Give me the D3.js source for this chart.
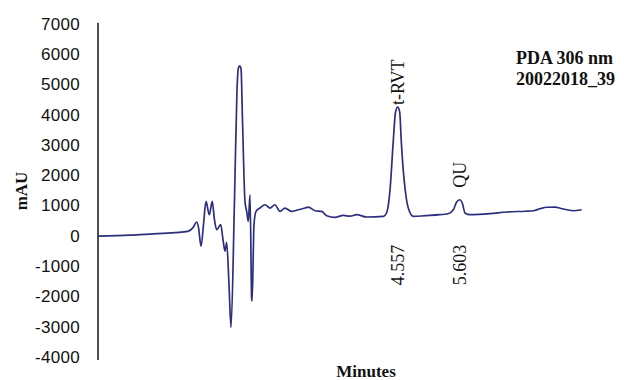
<!DOCTYPE html>
<html>
<head>
<meta charset="utf-8">
<script src="https://cdn.jsdelivr.net/npm/d3@7"></script>
<style>
  body { margin: 0; background: #fff; }
</style>
</head>
<body>
<div id="container"></div>
<script>
// chromatogram: time (min) and signal (mAU)
let times = [-0.50, 0.04, 0.377, 0.799, 1.018, 1.103, 1.165, 1.196, 1.238, 1.280,
  1.322, 1.378, 1.428, 1.465, 1.503, 1.570, 1.609, 1.643, 1.671, 1.710,
  1.744, 1.803, 1.845, 1.867, 1.891, 1.913, 1.938, 1.980, 2.009, 2.036,
  2.065, 2.093, 2.100, 2.132, 2.166, 2.233, 2.318, 2.402, 2.486, 2.571,
  2.655, 2.768, 2.851, 2.993, 3.048, 3.161, 3.274, 3.358, 3.498, 3.639,
  3.752, 3.865, 4.033, 4.314, 4.376, 4.427, 4.483, 4.520, 4.557, 4.591,
  4.616, 4.650, 4.683, 4.734, 4.823, 5.021, 5.270, 5.405, 5.495, 5.549,
  5.603, 5.650, 5.692, 5.776, 6.114, 6.396, 6.704, 6.845, 6.958, 7.076,
  7.211, 7.329, 7.408, 7.520, 7.661];
let mau = [-10, 20, 56, 105, 148, 270, 456, 270, -345, 368,
  1133, 696, 1133, 532, 204, 368, -125, -509, -213, -1602,
  -3024, 1189, 4800, 5523, 5605, 5523, 3815, 1133, 804, 476,
  1353, -2095, -2160, 368, 804, 916, 1024, 916, 1024, 804,
  916, 804, 844, 916, 949, 827, 804, 663, 607, 673,
  647, 696, 621, 640, 795, 1517, 3159, 4078, 4250, 4078,
  3159, 2174, 1517, 926, 640, 663, 696, 729, 860, 1107,
  1189, 1057, 752, 696, 729, 785, 811, 827, 893, 942,
  949, 893, 860, 827, 860];

let yTicks = [-4000, -3000, -2000, -1000, 0, 1000, 2000, 3000, 4000, 5000, 6000, 7000];

let peakNames = ["t-RVT", "QU"];
let peakTimes = [4.557, 5.603];
let peakHeights = [4250, 1189];

let infoLines = ["PDA 306 nm", "20022018_39"];
let yTitle = "mAU";
let xTitle = "Minutes";

let w = 624;
let h = 380;

let svg = d3.select("#container")
  .append("svg")
    .attr("width", w)
    .attr("height", h)
;

let xScale = d3.scaleLinear().domain([-0.5, 7.7]).range([98, 584]);
let yScale = d3.scaleLinear().domain([-4000, 7000]).range([357, 23.7]);

// plain hyphen for negatives, like the original
let yAxis = d3.axisLeft(yScale)
  .tickValues(yTicks)
  .tickSize(0)
  .tickPadding(18)
  .tickFormat(function(d){ return String(d); });

let yAxisGroup = svg.append("g")
    .attr("transform", "translate(" + xScale(-0.5) + ",0)")
    .call(yAxis);
yAxisGroup.select(".domain")
    .attr("stroke", "#222")
    .attr("stroke-width", 1.6)
    .attr("d", "M0," + (yScale(7000) - 1) + "V" + (yScale(-4000) + 3));
yAxisGroup.selectAll("text")
    .attr("font-family", "'Liberation Sans', Arial, sans-serif")
    .attr("font-size", 17)
    .attr("letter-spacing", 0.3)
    .attr("fill", "#111");

// trace
let lineMaker = d3.line()
  .x(function(d){ return xScale(d[0]); })
  .y(function(d){ return yScale(d[1]); })
  .curve(d3.curveMonotoneX);

let points = times.map(function(t, i){ return [t, mau[i]]; });

svg.append("path")
    .datum(points)
    .attr("d", lineMaker)
    .attr("fill", "none")
    .attr("stroke", "#2d2f7e")
    .attr("stroke-width", 1.7)
    .attr("stroke-linejoin", "round");

// peak names above, retention times below
let nameGaps = [2, 12];
peakNames.forEach(function(name, i){
  let x = xScale(peakTimes[i]);
  let y = yScale(peakHeights[i]) - nameGaps[i];
  svg.append("text")
      .attr("transform", "translate(" + x + "," + y + ") rotate(-90)")
      .attr("dy", "0.35em")
      .attr("text-anchor", "start")
      .attr("font-family", "'Liberation Serif', 'Times New Roman', serif")
      .attr("font-size", 18)
      .attr("fill", "#111")
      .text(name);

  svg.append("text")
      .attr("transform", "translate(" + x + "," + (yScale(0) + 9) + ") rotate(-90)")
      .attr("dy", "0.35em")
      .attr("text-anchor", "end")
      .attr("font-family", "'Liberation Serif', 'Times New Roman', serif")
      .attr("font-size", 18)
      .attr("fill", "#111")
      .text(d3.format(".3f")(peakTimes[i]));
});

// run info
svg.selectAll(".info")
  .data(infoLines)
  .enter()
  .append("text")
    .attr("class", "info")
    .attr("x", 516)
    .attr("y", function(d, i){ return 64 + i * 21; })
    .attr("font-family", "'Liberation Serif', 'Times New Roman', serif")
    .attr("font-weight", "bold")
    .attr("font-size", 18)
    .attr("fill", "#111")
    .text(function(d){ return d; });

// axis titles
svg.append("text")
    .attr("transform", "translate(27,191) rotate(-90)")
    .attr("text-anchor", "middle")
    .attr("font-family", "'Liberation Serif', 'Times New Roman', serif")
    .attr("font-weight", "bold")
    .attr("font-size", 17)
    .attr("fill", "#111")
    .text(yTitle);

svg.append("text")
    .attr("x", 366)
    .attr("y", 377)
    .attr("text-anchor", "middle")
    .attr("font-family", "'Liberation Serif', 'Times New Roman', serif")
    .attr("font-weight", "bold")
    .attr("font-size", 17)
    .attr("fill", "#111")
    .text(xTitle);
</script>
</body>
</html>
